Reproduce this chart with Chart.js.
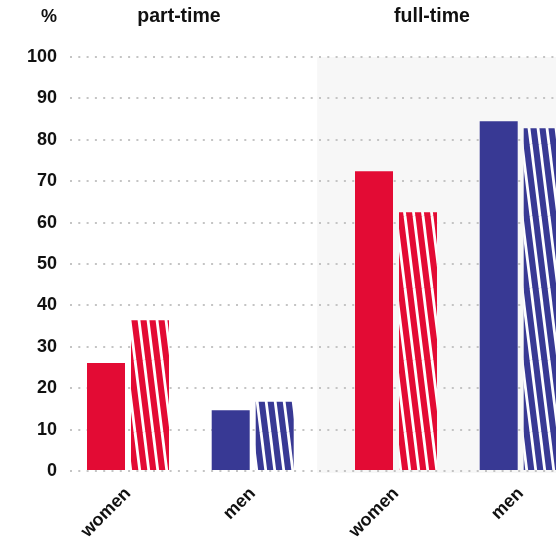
<!DOCTYPE html>
<html><head><meta charset="utf-8">
<script src="https://cdn.jsdelivr.net/npm/chart.js@4/dist/chart.umd.min.js"></script>
<style>html,body{margin:0;padding:0;overflow:hidden;background:#fff;width:556px;height:544px}canvas{display:block}</style>
</head><body>
<canvas id="c" width="620" height="544"></canvas>
<script>
// ---- data ----
const categories = ['women', 'men', 'women', 'men'];
const groupLabels = ['part-time', 'full-time'];
const unitLabel = '%';
const solidValues = [26.1, 14.7, 72.4, 84.5];
const hatchedValues = [36.4, 16.7, 62.5, 82.8];
const categoryColors = ['#e30b34', '#383994', '#e30b34', '#383994'];

// ---- styling ----
const FONT = '"Liberation Sans", Arial, sans-serif';
const TEXT = '#111111';

function hatch(color) {
  const w = 9, h = 72;
  const c = document.createElement('canvas');
  c.width = w; c.height = h;
  const g = c.getContext('2d');
  g.fillStyle = color; g.fillRect(0, 0, w, h);
  g.strokeStyle = '#ffffff'; g.lineWidth = 2.8;
  for (const dx of [-w, 0, w]) {
    g.beginPath(); g.moveTo(dx, 0); g.lineTo(dx + w, h); g.stroke();
  }
  return document.getElementById('c').getContext('2d').createPattern(c, 'repeat');
}

// x-scale spacing: band between categories, extra gap between the two groups
const bandPx = 124.7, groupGapPx = 18.6, firstCenter = 58;

const layoutPlugin = {
  id: 'layoutFix',
  afterLayout(chart) {
    const x = chart.scales.x;
    x.getPixelForValue = function (v) {
      if (typeof v !== 'number') v = this.parse(v);
      if (v === null || isNaN(v)) return NaN;
      const g = Math.min(Math.max(v - 1, 0), 1);
      return this.left + firstCenter + v * bandPx + g * groupGapPx;
    };
  },
  beforeDraw(chart) {
    const {ctx, chartArea, scales: {x, y}} = chart;
    const left = x.getPixelForValue(1.45);
    const top = y.getPixelForValue(100);
    const bottom = y.getPixelForValue(0) + 2;
    ctx.save();
    ctx.fillStyle = '#f7f7f7';
    ctx.fillRect(left, top, chartArea.right - left, bottom - top);
    ctx.restore();
  },
  afterDraw(chart) {
    const ctx = chart.ctx;
    ctx.save();
    ctx.fillStyle = TEXT;
    ctx.textBaseline = 'middle';
    ctx.font = 'bold 18px ' + FONT;
    ctx.textAlign = 'right';
    ctx.fillText(unitLabel, 57, 17);
    ctx.font = 'bold 19.5px ' + FONT;
    ctx.textAlign = 'center';
    ctx.fillText(groupLabels[0], 179, 17);
    ctx.fillText(groupLabels[1], 432, 17);
    ctx.restore();
  }
};

new Chart(document.getElementById('c'), {
  type: 'bar',
  data: {
    labels: categories,
    datasets: [
      { label: 'solid', data: solidValues, backgroundColor: categoryColors },
      { label: 'hatched', data: hatchedValues, backgroundColor: categoryColors.map(hatch) }
    ]
  },
  options: {
    responsive: false,
    animation: false,
    devicePixelRatio: 1,
    categoryPercentage: 88 / bandPx,
    barPercentage: 38 / 44,
    layout: { padding: { top: 57, left: 0, right: 0, bottom: 0 } },
    plugins: { legend: { display: false }, tooltip: { enabled: false } },
    scales: {
      x: {
        grid: { display: false, drawTicks: false },
        border: { display: false },
        ticks: {
          autoSkip: false, minRotation: 45, maxRotation: 45, padding: 12,
          color: TEXT, font: { family: FONT, size: 18, weight: 'bold' }
        },
        afterFit(s) { s.height = 73; }
      },
      y: {
        min: 0, max: 100,
        grid: { color: '#c4c4c4', lineWidth: 2, drawTicks: false },
        border: { display: false, dash: [2, 6.3] },
        ticks: {
          stepSize: 10, padding: 13,
          color: TEXT, font: { family: FONT, size: 18, weight: 'bold' }
        },
        afterFit(s) { s.width = 70; }
      }
    }
  },
  plugins: [layoutPlugin]
});
</script>
</body></html>
